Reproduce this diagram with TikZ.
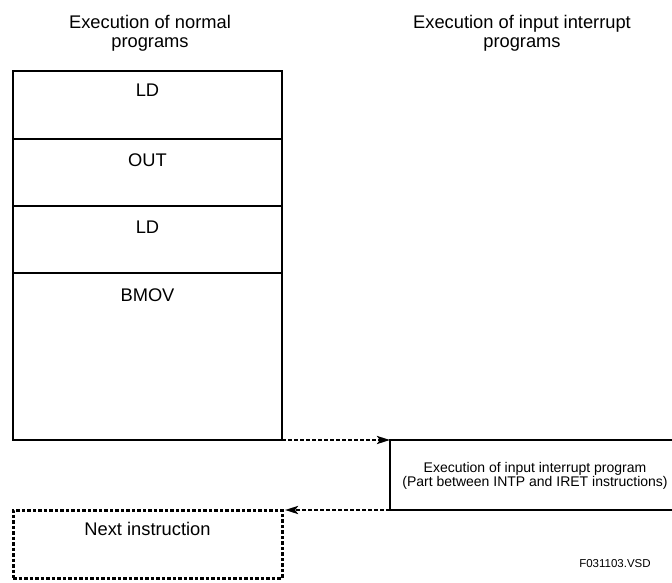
\documentclass[tikz,border=0pt]{standalone}
\usepackage{fontspec}
\setmainfont{Liberation Sans}
\usepackage{tikz}
\usetikzlibrary{positioning, arrows.meta}
\tikzset{
    cell/.style={rectangle, draw, line width=2pt, anchor=north west, minimum width=269pt, inner sep=0pt, outer sep=0pt},
    op/.style={anchor=base, font=\fontsize{18.3}{20}\selectfont, inner sep=0pt},
    hdr/.style={align=center, inner sep=0pt, font=\fontsize{18.3}{19.5}\selectfont},
    small/.style={align=center, inner sep=0pt, font=\fontsize{14}{13.5}\selectfont},
    arrow/.style={-{Stealth[length=13pt, width=8pt, inset=3pt]}, line width=2.8pt, dash pattern=on 4pt off 2pt},
    nextbox/.style={rectangle, draw, line width=3pt, dash pattern=on 3.5pt off 2pt, anchor=north west, minimum width=269pt, minimum height=68pt, outer sep=0pt}
}

\begin{document}
\begin{tikzpicture}[x=1pt, y=-1pt]
  \useasboundingbox (0,0) rectangle (672,583);

  % column headings
  \node[hdr] (hnorm) at (150,33.4) {Execution of normal\\programs};
  \node[hdr] (hintr) at (522,33.4) {Execution of input interrupt\\programs};

  % normal program steps
  \node[cell, minimum height=68pt] (ld1) at (13,71) {};
  \node[cell, minimum height=67pt] (out) at (ld1.south west) {};
  \node[cell, minimum height=67pt] (ld2) at (out.south west) {};
  \node[cell, minimum height=167pt] (bmov) at (ld2.south west) {};
  \node[op] at ([yshift=-26pt]ld1.north) {LD};
  \node[op] at ([yshift=-27pt]out.north) {OUT};
  \node[op] at ([yshift=-27pt]ld2.north) {LD};
  \node[op] at ([yshift=-28pt]bmov.north) {BMOV};

  % interrupt program
  \node[rectangle, draw, line width=1.2pt, anchor=north west, minimum width=284pt, minimum height=70pt, inner sep=0pt, outer sep=0pt] (intp) at (390,440) {};
  \node[small] at (535,476) {Execution of input interrupt program\\(Part between INTP and IRET instructions)};

  % next step after return
  \node[nextbox] (next) at (13,510) {};
  \node[op] at ([yshift=-25pt]next.north) {Next instruction};

  \draw[arrow] (bmov.south east) -- (intp.north west);
  \draw[arrow] (intp.south west) -- ([xshift=3pt]next.north east);

  \node[font=\fontsize{11.5}{13}\selectfont] (fig) at (615,564) {F031103.VSD};
\end{tikzpicture}
\end{document}
